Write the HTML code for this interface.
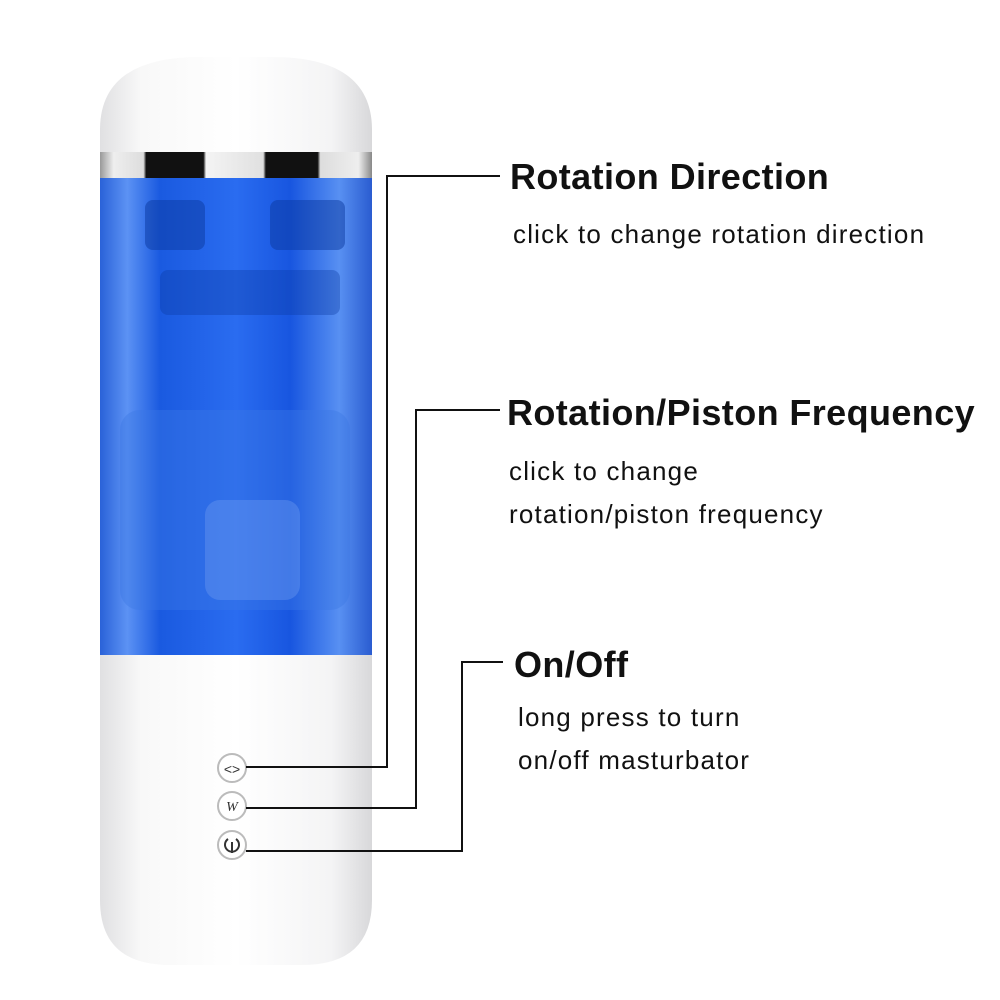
<!DOCTYPE html>
<html><head><meta charset="utf-8"><style>
html,body{margin:0;padding:0;background:#fff;}
.t{position:absolute;font-family:"Liberation Sans",sans-serif;color:#111;white-space:nowrap;}
.h{font-weight:bold;font-size:36px;letter-spacing:0.4px;}
.s{font-size:26px;line-height:43px;letter-spacing:1.2px;}
</style></head><body>
<div style="position:relative;width:1000px;height:1000px;overflow:hidden;">
<svg width="1000" height="1000" style="position:absolute;left:0;top:0">
<defs>
<linearGradient id="w" x1="0" x2="1">
<stop offset="0" stop-color="#e0e0e2"/><stop offset="0.15" stop-color="#f8f8f8"/><stop offset="0.5" stop-color="#ffffff"/><stop offset="0.85" stop-color="#f4f4f5"/><stop offset="1" stop-color="#d8d8da"/>
</linearGradient>
<linearGradient id="b" x1="0" x2="1">
<stop offset="0" stop-color="#2a62d8"/><stop offset="0.1" stop-color="#5c92f4"/><stop offset="0.22" stop-color="#1a5ae0"/><stop offset="0.5" stop-color="#2a6cf0"/><stop offset="0.7" stop-color="#1856e0"/><stop offset="0.88" stop-color="#5890f2"/><stop offset="1" stop-color="#2a5cd0"/>
</linearGradient>
<linearGradient id="c" x1="0" x2="1">
<stop offset="0" stop-color="#999"/><stop offset="0.05" stop-color="#eee"/><stop offset="0.16" stop-color="#ddd"/><stop offset="0.17" stop-color="#111"/><stop offset="0.38" stop-color="#111"/><stop offset="0.39" stop-color="#f4f4f4"/><stop offset="0.6" stop-color="#e0e0e0"/><stop offset="0.61" stop-color="#111"/><stop offset="0.8" stop-color="#111"/><stop offset="0.81" stop-color="#ddd"/><stop offset="0.95" stop-color="#eee"/><stop offset="1" stop-color="#888"/>
</linearGradient>
</defs>
<!-- top cap -->
<path d="M100,162 L100,130 Q100,57 200,57 L272,57 Q372,57 372,130 L372,162 Z" fill="url(#w)"/>
<rect x="100" y="152" width="272" height="26" fill="url(#c)"/>
<!-- blue -->
<rect x="100" y="178" width="272" height="478" fill="url(#b)"/>
<rect x="145" y="200" width="60" height="50" rx="8" fill="#0c3aa0" opacity="0.5"/>
<rect x="270" y="200" width="75" height="50" rx="8" fill="#0c3aa0" opacity="0.5"/>
<rect x="160" y="270" width="180" height="45" rx="8" fill="#0c3aa0" opacity="0.35"/>
<rect x="120" y="410" width="230" height="200" rx="20" fill="#3b78e4" opacity="0.4"/>
<rect x="205" y="500" width="95" height="100" rx="15" fill="#6f9cf0" opacity="0.4"/>
<!-- bottom -->
<path d="M100,655 L372,655 L372,900 Q372,965 302,965 L170,965 Q100,965 100,900 Z" fill="url(#w)"/>
<!-- buttons -->
<g fill="#fff" stroke="#bbb" stroke-width="2">
<circle cx="232" cy="768" r="14"/><circle cx="232" cy="806" r="14"/><circle cx="232" cy="845" r="14"/>
</g>
<text x="232" y="774" font-size="14" text-anchor="middle" font-family="Liberation Sans" fill="#333">&lt;&gt;</text>
<text x="232" y="811" font-size="14" font-style="italic" text-anchor="middle" font-family="Liberation Serif" fill="#333">W</text>
<path d="M228,839 A7,7 0 1 0 236,839 M232,842 L232,853" stroke="#333" stroke-width="2" fill="none"/>
<!-- leaders -->
<g stroke="#111" stroke-width="2" fill="none">
<polyline points="500,176 387,176 387,767 246,767"/>
<polyline points="500,410 416,410 416,808 246,808"/>
<polyline points="503,662 462,662 462,851 246,851"/>
</g>
</svg>
<div class="t h" style="left:510px;top:156px;">Rotation Direction</div>
<div class="t s" style="left:513px;top:213px;">click to change rotation direction</div>
<div class="t h" style="left:507px;top:392px;">Rotation/Piston Frequency</div>
<div class="t s" style="left:509px;top:450px;">click to change<br>rotation/piston frequency</div>
<div class="t h" style="left:514px;top:644px;">On/Off</div>
<div class="t s" style="left:518px;top:696px;">long press to turn<br>on/off masturbator</div>
</div>
</body></html>
